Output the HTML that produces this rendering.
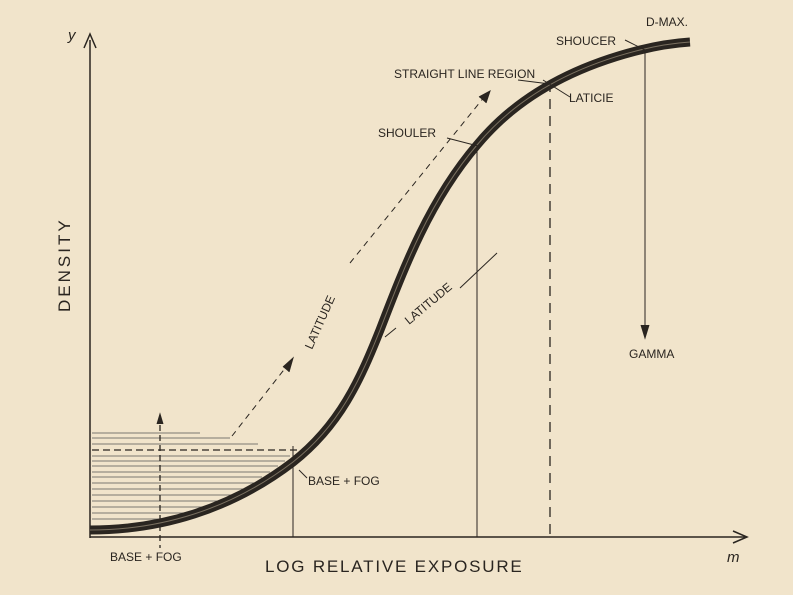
<!DOCTYPE html>
<html><head><style>
html,body{margin:0;padding:0;background:#f1e4cb;}
svg{display:block}
text{font-family:"Liberation Sans",sans-serif;fill:#2a2520;}
</style></head><body>
<svg width="793" height="595" viewBox="0 0 793 595" xmlns="http://www.w3.org/2000/svg">
<rect width="793" height="595" fill="#f1e4cb"/>
<g stroke="#2a2520" fill="none">
<line x1="90" y1="40" x2="90" y2="538" stroke-width="1.5"/>
<path d="M84,48 L90,34 L96,48" stroke-width="1.5"/>
<line x1="90" y1="537" x2="745" y2="537" stroke-width="1.5"/>
<path d="M733,531 L747,537 L733,543" stroke-width="1.5"/>
<g stroke-width="0.8" stroke="#555">
<line x1="92" y1="433" x2="200" y2="433"/>
<line x1="92" y1="438" x2="230" y2="438"/>
<line x1="92" y1="444" x2="258" y2="444"/>
<line x1="92" y1="456" x2="290" y2="456"/>
<line x1="92" y1="461" x2="285" y2="461"/>
<line x1="92" y1="466" x2="278" y2="466"/>
<line x1="92" y1="472" x2="270" y2="472"/>
<line x1="92" y1="477" x2="262" y2="477"/>
<line x1="92" y1="483" x2="254" y2="483"/>
<line x1="92" y1="489" x2="245" y2="489"/>
<line x1="92" y1="495" x2="235" y2="495"/>
<line x1="92" y1="501" x2="222" y2="501"/>
<line x1="92" y1="507" x2="208" y2="507"/>
<line x1="92" y1="513" x2="190" y2="513"/>
<line x1="92" y1="519" x2="170" y2="519"/>
</g>
<line x1="92" y1="450" x2="300" y2="450" stroke-dasharray="7,4" stroke-width="1.3"/>
<line x1="160" y1="425" x2="160" y2="548" stroke-dasharray="6,4" stroke-width="1.3"/>
<path d="M157,424 L160,414 L163,424" fill="#2a2520"/>
<line x1="293" y1="446" x2="293" y2="537"/>
<line x1="477" y1="140" x2="477" y2="537"/>
<line x1="550" y1="82" x2="550" y2="537" stroke-dasharray="10,7" stroke-width="1.3"/>
<line x1="645" y1="48" x2="645" y2="330"/>
<path d="M641,325 L645,338 L649,325" fill="#2a2520"/>
<path d="M90,530 C160,530 230,510 293,462 C340,425 360,380 380,330 C405,265 430,200 477,145 C510,105 560,70 640,50 C660,45 675,43 690,42" stroke-width="9" stroke="#2a2520"/>
<path d="M90,530 C160,530 230,510 293,462 C340,425 360,380 380,330 C405,265 430,200 477,145 C510,105 560,70 640,50 C660,45 675,43 690,42" stroke-width="1" stroke="#7a7060"/>
<path d="M232,436 L290,362" stroke-dasharray="6,5"/>
<path d="M283,367 L293,358 L289,372" fill="#2a2520"/>
<path d="M350,263 L485,96" stroke-dasharray="6,5"/>
<path d="M479,97 L490,91 L486,103" fill="#2a2520"/>
<path d="M299,470 L307,478"/>
<path d="M447,138 L478,146"/>
<path d="M385,337 L396,328"/>
<path d="M460,288 L497,253"/>
<path d="M543,80 L570,97"/>
<path d="M518,80 L550,84"/>
<path d="M625,40 L645,50"/>
</g>
<text x="68" y="40" font-size="15" font-style="italic">y</text>
<text x="727" y="562" font-size="15" font-style="italic" font-family="Liberation Serif">m</text>
<text x="70" y="312" font-size="17" letter-spacing="3" transform="rotate(-90 70 312)">DENSITY</text>
<text x="265" y="572" font-size="17" letter-spacing="1.8">LOG RELATIVE EXPOSURE</text>
<text x="110" y="561" font-size="12">BASE + FOG</text>
<text x="308" y="485" font-size="12">BASE + FOG</text>
<text x="378" y="137" font-size="12">SHOULER</text>
<text x="394" y="78" font-size="12">STRAIGHT LINE REGION</text>
<text x="569" y="102" font-size="12">LATICIE</text>
<text x="556" y="45" font-size="12">SHOUCER</text>
<text x="646" y="26" font-size="12">D-MAX.</text>
<text x="629" y="358" font-size="12">GAMMA</text>
<text x="312" y="350" font-size="12" transform="rotate(-66 312 350)">LATITUDE</text>
<text x="409" y="325" font-size="12" transform="rotate(-40 409 325)">LATITUDE</text>
</svg>
</body></html>
